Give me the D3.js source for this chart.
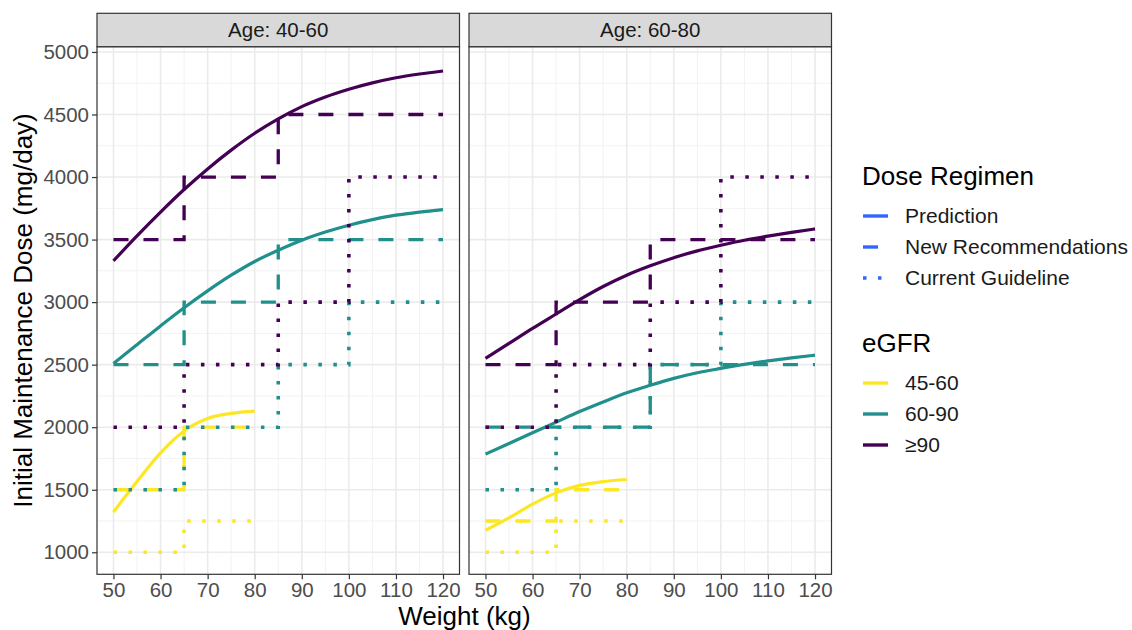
<!DOCTYPE html>
<html>
<head>
<meta charset="utf-8">
<script src="https://cdn.jsdelivr.net/npm/d3@7"></script>
<style>
  body { margin: 0; background: #fff; }
  text { font-family: "Liberation Sans", Arial, sans-serif; }
</style>
</head>
<body>
<script>
// facets and groups
var ages = ["Age: 40-60", "Age: 60-80"];
var egfrGroups = ["45-60", "60-90", "\u226590"];
var egfrColors = ["#FDE725", "#21908C", "#440154"];
var regimens = ["Prediction", "New Recommendations", "Current Guideline"];

var xTicks = [50, 60, 70, 80, 90, 100, 110, 120];
var yTicks = [1000, 1500, 2000, 2500, 3000, 3500, 4000, 4500, 5000];

// predicted dose (solid), read every 5 kg
var predWeightsLow = [50, 55, 60, 65, 70, 75, 80];
var predWeights = [50, 55, 60, 65, 70, 75, 80, 85, 90, 95, 100, 105, 110, 115, 120];
var pred4060_45 = [1322, 1565, 1795, 1970, 2070, 2110, 2128];
var pred4060_60 = [2510, 2660, 2810, 2955, 3090, 3215, 3325, 3415, 3495, 3560, 3615, 3660, 3695, 3720, 3740];
var pred4060_90 = [3330, 3530, 3720, 3900, 4065, 4215, 4350, 4465, 4563, 4640, 4702, 4753, 4794, 4824, 4848];
var pred6080_45 = [1176, 1275, 1385, 1475, 1535, 1565, 1582];
var pred6080_60 = [1785, 1870, 1955, 2040, 2125, 2202, 2275, 2335, 2390, 2435, 2470, 2502, 2530, 2554, 2576];
var pred6080_90 = [2550, 2670, 2790, 2905, 3020, 3125, 3215, 3290, 3355, 3410, 3455, 3495, 3527, 3557, 3585];

// new recommendations (dashed), step breakpoints
var recW_45 = [50, 65, 80];
var recW_60 = [50, 65, 85, 120];
var recW_90 = [50, 65, 85, 120];
var rec4060_45 = [1500, 2000, 2000];
var rec4060_60 = [2500, 3000, 3500, 3500];
var rec4060_90 = [3500, 4000, 4500, 4500];
var recW6080_60 = [50, 85, 120];
var rec6080_45 = [1250, 1500, 1500];
var rec6080_60 = [2000, 2500, 2500];
var rec6080_90 = [2500, 3000, 3500, 3500];

// current guideline (dotted), same for both age groups
var guideW_45 = [50, 65, 80];
var guideW = [50, 65, 85, 100, 120];
var guide_45 = [1000, 1250, 1250];
var guide_60 = [1500, 2000, 2500, 3000, 3000];
var guide_90 = [2000, 2500, 3000, 4000, 4000];

function zip(ws, ds) {
  return ws.map(function(w, i){ return {w: w, d: ds[i]}; });
}

var series = [
  // [panel, regimen, group, points]
  [0, 0, 0, zip(predWeightsLow, pred4060_45)],
  [0, 0, 1, zip(predWeights, pred4060_60)],
  [0, 0, 2, zip(predWeights, pred4060_90)],
  [1, 0, 0, zip(predWeightsLow, pred6080_45)],
  [1, 0, 1, zip(predWeights, pred6080_60)],
  [1, 0, 2, zip(predWeights, pred6080_90)],
  [0, 1, 0, zip(recW_45, rec4060_45)],
  [0, 1, 1, zip(recW_60, rec4060_60)],
  [0, 1, 2, zip(recW_90, rec4060_90)],
  [1, 1, 0, zip(recW_45, rec6080_45)],
  [1, 1, 1, zip(recW6080_60, rec6080_60)],
  [1, 1, 2, zip(recW_90, rec6080_90)],
  [0, 2, 0, zip(guideW_45, guide_45)],
  [0, 2, 1, zip(guideW, guide_60)],
  [0, 2, 2, zip(guideW, guide_90)],
  [1, 2, 0, zip(guideW_45, guide_45)],
  [1, 2, 1, zip(guideW, guide_60)],
  [1, 2, 2, zip(guideW, guide_90)]
];

var width = 1132, height = 630;
var panelLeft = [97, 469], panelW = 362.5;
var pTop = 46.7, pBottom = 574.3, stripTop = 13.3;

var svg = d3.select('body').append('svg')
  .attr('width', width)
  .attr('height', height);

var y = d3.scaleLinear().domain([824, 5042]).range([pBottom, pTop]);

var dashes = [null, "15,15", "3.5,11.5"];
var widths = [3.2, 3.3, 3.6];

ages.forEach(function(age, p){
  var x = d3.scaleLinear().domain([46.5, 123.5]).range([panelLeft[p], panelLeft[p] + panelW]);
  var g = svg.append('g');

  // minor grid
  var minorX = d3.range(45, 125, 10);
  var minorY = d3.range(750, 5250, 500);
  g.selectAll('.mx').data(minorX.filter(function(v){ return v > 46.5 && v < 123.5; })).enter()
    .append('line')
    .attr('x1', function(d){ return x(d); }).attr('x2', function(d){ return x(d); })
    .attr('y1', pTop).attr('y2', pBottom)
    .style('stroke', '#f2f2f2').style('stroke-width', 1);
  g.selectAll('.my').data(minorY.filter(function(v){ return v > 824 && v < 5042; })).enter()
    .append('line')
    .attr('x1', panelLeft[p]).attr('x2', panelLeft[p] + panelW)
    .attr('y1', function(d){ return y(d); }).attr('y2', function(d){ return y(d); })
    .style('stroke', '#f2f2f2').style('stroke-width', 1);
  // major grid
  g.selectAll('.gx').data(xTicks).enter()
    .append('line')
    .attr('x1', function(d){ return x(d); }).attr('x2', function(d){ return x(d); })
    .attr('y1', pTop).attr('y2', pBottom)
    .style('stroke', '#ebebeb').style('stroke-width', 1.6);
  g.selectAll('.gy').data(yTicks).enter()
    .append('line')
    .attr('x1', panelLeft[p]).attr('x2', panelLeft[p] + panelW)
    .attr('y1', function(d){ return y(d); }).attr('y2', function(d){ return y(d); })
    .style('stroke', '#ebebeb').style('stroke-width', 1.6);

  var line = d3.line().x(function(d){ return x(d.w); }).y(function(d){ return y(d.d); });

  series.filter(function(s){ return s[0] === p; }).forEach(function(s){
    var r = s[1];
    var gen = r === 0 ? line.curve(d3.curveMonotoneX) : line.curve(d3.curveStepAfter);
    g.append('path')
      .attr('d', gen(s[3]))
      .style('fill', 'none')
      .style('stroke', egfrColors[s[2]])
      .style('stroke-width', widths[r])
      .style('stroke-dasharray', dashes[r])
      .style('stroke-linecap', 'butt');
  });

  // panel border
  g.append('rect')
    .attr('x', panelLeft[p]).attr('y', pTop)
    .attr('width', panelW).attr('height', pBottom - pTop)
    .style('fill', 'none').style('stroke', '#333333').style('stroke-width', 1.2);

  // strip
  g.append('rect')
    .attr('x', panelLeft[p]).attr('y', stripTop)
    .attr('width', panelW).attr('height', pTop - stripTop)
    .style('fill', '#d9d9d9').style('stroke', '#333333').style('stroke-width', 1.2);
  g.append('text')
    .attr('x', panelLeft[p] + panelW / 2).attr('y', 37)
    .attr('text-anchor', 'middle')
    .style('font-size', '20.5px').style('fill', '#1a1a1a')
    .text(age);

  // x axis
  var xa = g.append('g').attr('transform', 'translate(0,' + pBottom + ')')
    .call(d3.axisBottom(x).tickValues(xTicks).tickSize(5).tickPadding(3));
  xa.select('.domain').remove();
  xa.selectAll('line').style('stroke', '#333333').style('stroke-width', 1.2);
  xa.selectAll('text').style('font-size', '20.5px').style('fill', '#4d4d4d')
    .style('font-family', '"Liberation Sans", Arial, sans-serif');

  if (p === 0) {
    var ya = g.append('g').attr('transform', 'translate(' + panelLeft[0] + ',0)')
      .call(d3.axisLeft(y).tickValues(yTicks).tickFormat(d3.format('d')).tickSize(5).tickPadding(3));
    ya.select('.domain').remove();
    ya.selectAll('line').style('stroke', '#333333').style('stroke-width', 1.2);
    ya.selectAll('text').style('font-size', '20.5px').style('fill', '#4d4d4d')
      .style('font-family', '"Liberation Sans", Arial, sans-serif');
  }
});

// axis titles
svg.append('text')
  .attr('x', 464.5).attr('y', 625)
  .attr('text-anchor', 'middle')
  .style('font-size', '26px').style('fill', '#000')
  .text('Weight (kg)');
svg.append('text')
  .attr('transform', 'translate(32,310.5) rotate(-90)')
  .attr('text-anchor', 'middle')
  .style('font-size', '26px').style('fill', '#000')
  .text('Initial Maintenance Dose (mg/day)');

// legends
var lg = svg.append('g');
lg.append('text').attr('x', 862).attr('y', 185)
  .style('font-size', '26px').style('fill', '#000').text('Dose Regimen');
regimens.forEach(function(r, i){
  var yy = 216 + i * 31;
  lg.append('line')
    .attr('x1', 863).attr('x2', 888).attr('y1', yy).attr('y2', yy)
    .style('stroke', '#3366FF').style('stroke-width', 3.4)
    .style('stroke-dasharray', dashes[i]);
  lg.append('text').attr('x', 905).attr('y', yy + 7)
    .style('font-size', '21px').style('fill', '#1a1a1a').text(r);
});
lg.append('text').attr('x', 862).attr('y', 352)
  .style('font-size', '26px').style('fill', '#000').text('eGFR');
egfrGroups.forEach(function(e, i){
  var yy = 383 + i * 31;
  lg.append('line')
    .attr('x1', 863).attr('x2', 888).attr('y1', yy).attr('y2', yy)
    .style('stroke', egfrColors[i]).style('stroke-width', 3.4);
  lg.append('text').attr('x', 905).attr('y', yy + 7)
    .style('font-size', '21px').style('fill', '#1a1a1a').text(e);
});
</script>
</body>
</html>
